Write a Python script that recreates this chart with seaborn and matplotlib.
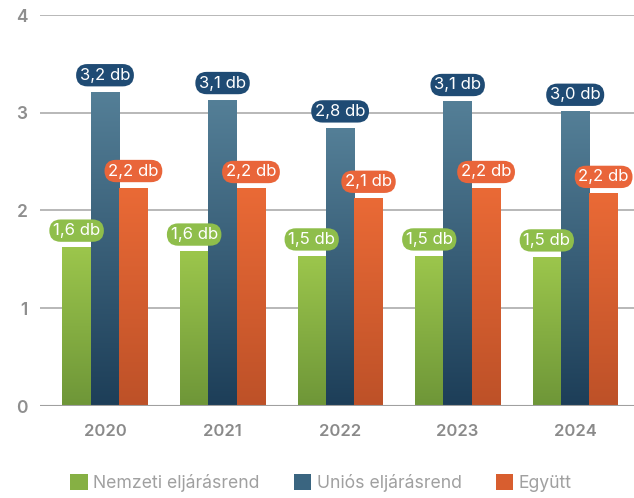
"""Grouped bar chart: eljárások átlagos száma évenként."""

import numpy as np
import pandas as pd
import matplotlib.pyplot as plt
import seaborn as sns
from matplotlib.colors import LinearSegmentedColormap
from matplotlib.patches import Patch

years = ['2020', '2021', '2022', '2023', '2024']
series_names = ['Nemzeti eljárásrend', 'Uniós eljárásrend', 'Együtt']
nemzeti = [1.62, 1.58, 1.53, 1.53, 1.52]
unios = [3.21, 3.13, 2.84, 3.11, 3.01]
egyutt = [2.23, 2.22, 2.12, 2.22, 2.17]
label_texts = {
    'Nemzeti eljárásrend': ['1,6 db', '1,6 db', '1,5 db', '1,5 db', '1,5 db'],
    'Uniós eljárásrend': ['3,2 db', '3,1 db', '2,8 db', '3,1 db', '3,0 db'],
    'Együtt': ['2,2 db', '2,2 db', '2,1 db', '2,2 db', '2,2 db'],
}

# gradient (top, bottom) and badge colour per series
grad_colors = {
    'Nemzeti eljárásrend': ('#9cc64c', '#6e9638'),
    'Uniós eljárásrend': ('#547f97', '#1d3e58'),
    'Együtt': ('#ea6a36', '#bd5128'),
}
badge_colors = {
    'Nemzeti eljárásrend': '#8fbe4b',
    'Uniós eljárásrend': '#1f4b74',
    'Együtt': '#e9653a',
}

df = pd.DataFrame({
    'year': years * 3,
    'series': np.repeat(series_names, len(years)),
    'value': nemzeti + unios + egyutt,
})

sns.set_style('white')
plt.rcParams['font.family'] = ['Inter', 'DejaVu Sans']

fig = plt.figure(figsize=(6.34, 4.98), dpi=100)
ax = fig.add_axes([40 / 634, 92 / 498, 594 / 634, 391 / 498])

palette = {k: v[0] for k, v in grad_colors.items()}
sns.barplot(data=df, x='year', y='value', hue='series', hue_order=series_names,
            palette=palette, width=0.725, ax=ax, legend=False, zorder=3)

# replace flat bars with vertical gradients and add value badges
grad = np.linspace(1, 0, 256).reshape(-1, 1)
for container, name in zip(ax.containers, series_names):
    cmap = LinearSegmentedColormap.from_list(name, [grad_colors[name][1], grad_colors[name][0]])
    for patch, txt in zip(container.patches, label_texts[name]):
        x0, w, h = patch.get_x(), patch.get_width(), patch.get_height()
        patch.set_visible(False)
        ax.imshow(grad, extent=[x0, x0 + w, 0, h], aspect='auto', cmap=cmap,
                  vmin=0, vmax=1, zorder=3)
        ax.annotate(txt, xy=(x0 + w / 2, h), xytext=(0, 17), textcoords='offset pixels',
                    ha='center', va='center', fontsize=12, color='white', zorder=5,
                    bbox=dict(boxstyle='round,pad=0.22,rounding_size=0.68',
                              fc=badge_colors[name], ec='none'))

ax.set_xlim(-0.553, 4.5)
ax.set_ylim(0, 4)
ax.set_yticks([0, 1, 2, 3, 4])
ax.yaxis.grid(True, color='#b2b2b2', linewidth=1.3)
ax.set_axisbelow(True)
for s in ax.spines.values():
    s.set_visible(False)
ax.axhline(0, color='#a0a0a0', linewidth=1.5, zorder=4)
ax.tick_params(axis='y', length=0, pad=9, labelsize=12.5, labelcolor='#8e8e8e')
ax.tick_params(axis='x', length=0, pad=13, labelsize=12, labelcolor='#8a8a8a')
for lbl in ax.get_xticklabels() + ax.get_yticklabels():
    lbl.set_fontweight('semibold')
ax.set_xlabel('')
ax.set_ylabel('')

handles = [Patch(facecolor=c, edgecolor='none') for c in ['#86b044', '#3a6580', '#d85e2f']]
fig.legend(handles, series_names, loc='center', bbox_to_anchor=(0.506, 0.030), ncol=3,
           frameon=False, fontsize=12.7, labelcolor='#a0a0a0', handlelength=1.0,
           handleheight=1.0, handletextpad=0.3, columnspacing=1.95, borderpad=0)

fig.savefig('out.png', dpi=100)
